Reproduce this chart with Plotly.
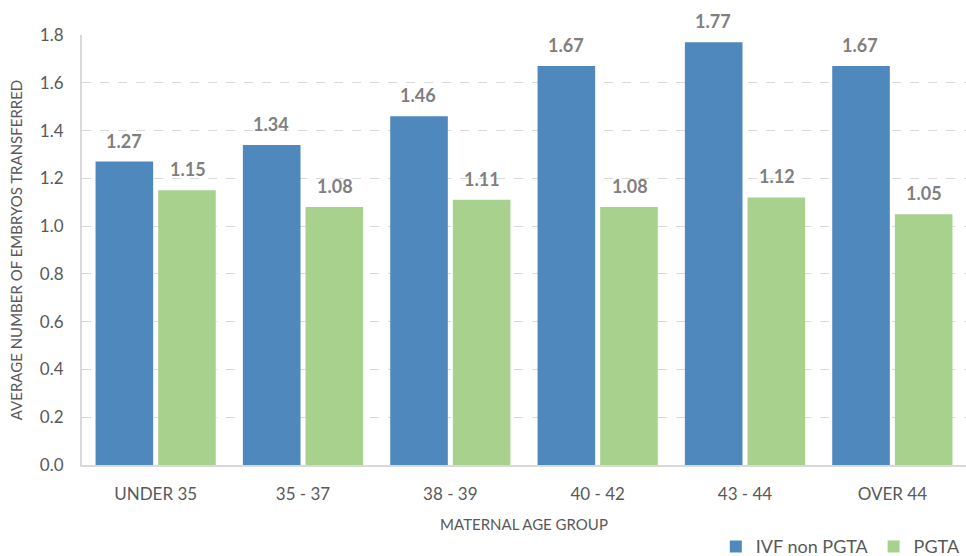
import plotly.graph_objects as go

categories = ["UNDER 35", "35 - 37", "38 - 39", "40 - 42", "43 - 44", "OVER 44"]
ivf_non_pgta = [1.27, 1.34, 1.46, 1.67, 1.77, 1.67]
pgta = [1.15, 1.08, 1.11, 1.08, 1.12, 1.05]
y_ticks = [0.0, 0.2, 0.4, 0.6, 0.8, 1.0, 1.2, 1.4, 1.6, 1.8]

BLUE = "#4f88bd"
GREEN = "#a9d18e"
FONT = "Lato, Open Sans, sans-serif"
GREY = "#595959"

fig = go.Figure()
fig.add_trace(go.Bar(name="IVF non PGTA", x=categories, y=ivf_non_pgta,
                     marker=dict(color=BLUE, line=dict(width=0))))
fig.add_trace(go.Bar(name="PGTA", x=categories, y=pgta,
                     marker=dict(color=GREEN, line=dict(width=0))))

annotations = []
for series, shift in ((ivf_non_pgta, -32), (pgta, 32)):
    for c, v in zip(categories, series):
        annotations.append(dict(x=c, y=v, xref="x", yref="y", text=f"<b>{v:.2f}</b>",
                                showarrow=False, xshift=shift, yanchor="bottom", yshift=8,
                                font=dict(family=FONT, size=18, color="#7f7f7f")))

fig.update_layout(
    width=966, height=556,
    margin=dict(l=82, r=0, t=35, b=91, autoexpand=False),
    paper_bgcolor="white", plot_bgcolor="white",
    barmode="group", bargap=0.15, bargroupgap=0.08,
    font=dict(family=FONT, color=GREY),
    showlegend=True,
    legend=dict(orientation="h", x=0.717, xanchor="left", y=-0.19, yanchor="middle",
                font=dict(size=18, color=GREY), traceorder="normal"),
    annotations=annotations,
    xaxis=dict(
        automargin=False,
        showline=True, linecolor="#d9d9d9", linewidth=2,
        tickfont=dict(size=17, color=GREY), ticks="", ticklabelstandoff=13,
        title=dict(text="MATERNAL AGE GROUP", font=dict(size=15, color=GREY), standoff=16),
    ),
    yaxis=dict(
        automargin=False,
        range=[0, 1.8], tickvals=y_ticks, ticktext=[f"{t:.1f}" for t in y_ticks],
        showline=True, linecolor="#d9d9d9", linewidth=2,
        showgrid=True, gridcolor="#d9d9d9", griddash="dash", gridwidth=1,
        zeroline=False,
        tickfont=dict(size=17, color=GREY), ticks="", ticklabelstandoff=13,
        title=dict(text="AVERAGE NUMBER OF EMBRYOS TRANSFERRED", font=dict(size=15, color=GREY), standoff=14),
    ),
)

fig.write_html("out.html", config={"displayModeBar": False},
               post_script="document.body.style.margin='0';")
